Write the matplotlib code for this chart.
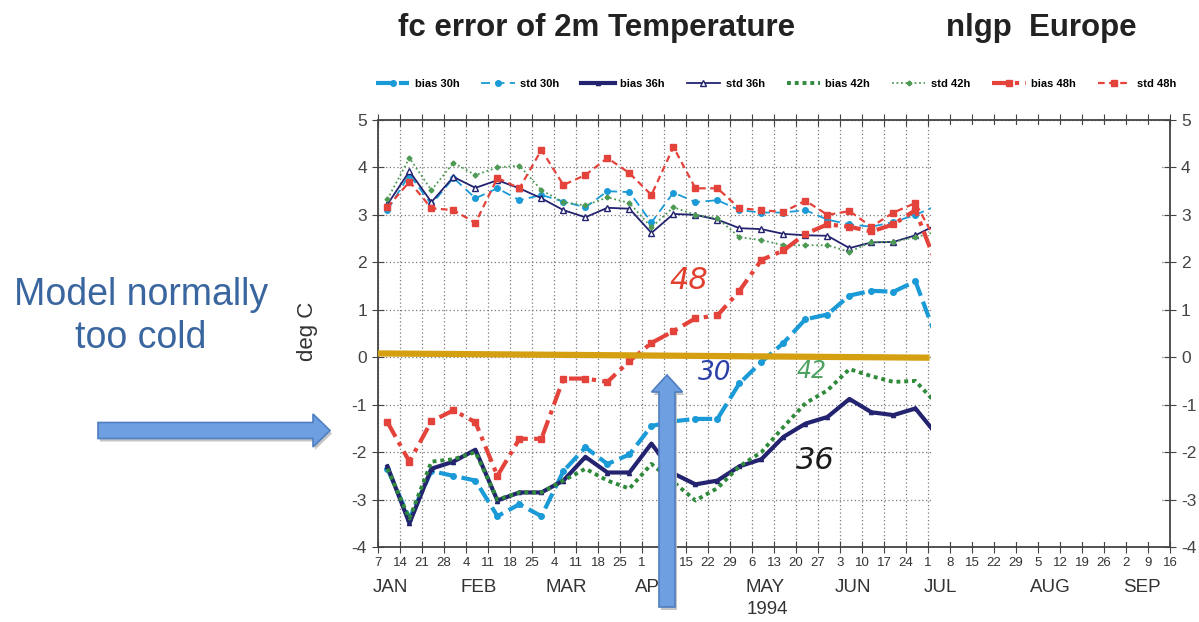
import numpy as np
import pandas as pd
import matplotlib
matplotlib.use("Agg")
import matplotlib.pyplot as plt
import matplotlib.dates as mdates
from matplotlib.patches import Rectangle, FancyArrow

plt.rcParams['font.family'] = ['Liberation Sans', 'DejaVu Sans']
plt.rcParams['axes.unicode_minus'] = False

# weekly verification dates (points sit ~3 days after the tick dates)
dates = pd.date_range("1994-01-10", periods=26, freq="7D")
tick_dates = pd.date_range("1994-01-07", "1994-09-16", freq="7D")
tick_days = [d.day for d in tick_dates]

months = ["JAN", "FEB", "MAR", "APR", "MAY", "JUN", "JUL", "AUG", "SEP"]
month_pos = ["1994-01-11", "1994-02-08", "1994-03-08", "1994-04-05", "1994-05-10",
             "1994-06-07", "1994-07-05", "1994-08-09", "1994-09-07"]

bias_30 = [-2.35, -3.4, -2.4, -2.5, -2.6, -3.35, -3.1, -3.35, -2.4, -1.9, -2.25, -2.05, -1.45,
           -1.35, -1.3, -1.3, -0.55, -0.1, 0.3, 0.8, 0.9, 1.3, 1.4, 1.38, 1.6, 0.35]
std_30 = [3.1, 3.85, 3.22, 3.78, 3.35, 3.56, 3.31, 3.42, 3.28, 3.16, 3.5, 3.48, 2.84,
          3.47, 3.27, 3.31, 3.1, 3.05, 3.05, 3.1, 2.9, 2.8, 2.75, 2.85, 3.0, 3.2]
bias_36 = [-2.3, -3.5, -2.35, -2.2, -1.95, -3.02, -2.85, -2.85, -2.6, -2.1, -2.43, -2.43, -1.82,
           -2.45, -2.68, -2.6, -2.3, -2.15, -1.68, -1.4, -1.26, -0.88, -1.16, -1.22, -1.08, -1.65]
std_36 = [3.22, 3.92, 3.27, 3.8, 3.57, 3.73, 3.56, 3.35, 3.1, 2.95, 3.15, 3.13, 2.62,
          3.02, 3.0, 2.9, 2.72, 2.7, 2.6, 2.57, 2.56, 2.3, 2.42, 2.43, 2.57, 2.8]
bias_42 = [-2.35, -3.4, -2.2, -2.15, -2.0, -3.0, -2.85, -2.85, -2.6, -2.35, -2.6, -2.77, -2.25,
           -2.63, -3.02, -2.76, -2.3, -2.0, -1.47, -0.97, -0.7, -0.25, -0.4, -0.52, -0.5, -1.0]
std_42 = [3.33, 4.2, 3.52, 4.1, 3.84, 4.0, 4.04, 3.52, 3.27, 3.2, 3.37, 3.25, 2.74,
          3.16, 3.0, 2.93, 2.53, 2.47, 2.36, 2.36, 2.36, 2.22, 2.43, 2.43, 2.53, 2.65]
bias_48 = [-1.37, -2.2, -1.35, -1.12, -1.37, -2.5, -1.72, -1.72, -0.45, -0.45, -0.52, -0.08, 0.3,
           0.55, 0.82, 0.88, 1.4, 2.05, 2.25, 2.6, 2.8, 2.75, 2.65, 2.8, 3.1, 1.9]
std_48 = [3.16, 3.7, 3.14, 3.1, 2.83, 3.78, 3.56, 4.37, 3.63, 3.84, 4.2, 3.88, 3.42,
          4.43, 3.56, 3.56, 3.14, 3.1, 3.06, 3.3, 3.0, 3.08, 2.75, 3.05, 3.25, 2.4]

c30 = '#1A9AD6'
c36 = '#23236F'
c42 = '#2F8A3C'
c48 = '#E4433B'

series = [
    ("bias 30h", bias_30, dict(color=c30, ls=(0, (4, 1.5)), lw=3.0, marker='o', ms=4)),
    ("std 30h", std_30, dict(color=c30, ls=(0, (5, 3)), lw=1.3, marker='o', ms=4)),
    ("bias 36h", bias_36, dict(color=c36, ls='-', lw=3.0, marker='^', ms=3)),
    ("std 36h", std_36, dict(color=c36, ls='-', lw=1.3, marker='^', ms=4.5, mfc='white', mew=1)),
    ("bias 42h", bias_42, dict(color=c42, ls=(0, (1, 1)), lw=2.8)),
    ("std 42h", std_42, dict(color='#4E9A55', ls=(0, (1, 1.5)), lw=1.3, marker='D', ms=2.5)),
    ("bias 48h", bias_48, dict(color=c48, ls=(0, (4, 1.5, 1, 1.5)), lw=3.0, marker='s', ms=4)),
    ("std 48h", std_48, dict(color=c48, ls=(0, (3, 2)), lw=1.6, marker='s', ms=5)),
]

fig = plt.figure(figsize=(11.99, 6.22), dpi=100)
ax = fig.add_axes([378 / 1199, 1 - 547 / 622, 792 / 1199, 427 / 622])

handles = []
for name, vals, st in series:
    ln, = ax.plot(dates, vals, label=name, zorder=2, **st)
    handles.append(ln)

# zero line drawn by hand on the original
ax.plot([pd.Timestamp("1994-01-07"), pd.Timestamp("1994-07-01 12:00")], [0.08, -0.01],
        color='#D4A012', lw=4.5, solid_capstyle='butt', zorder=4)

ax.set_xlim(tick_dates[0], tick_dates[-1])
ax.set_ylim(-4, 5)
ax.set_xticks(tick_dates)
ax.set_xticklabels(tick_days)
ax.set_yticks(range(-4, 6))
ax.grid(True, ls=(0, (1, 2)), color='#7a7a7a', lw=0.9)

ax.tick_params(axis='x', direction='inout', length=8, top=True, labelsize=9.5,
               labelcolor='#333333', pad=3, color='#444444')
ax.tick_params(axis='y', direction='inout', length=8, right=True, labelright=True,
               labelsize=12.5, labelcolor='#444444', pad=4, color='#444444')
for sp in ax.spines.values():
    sp.set_color('#444444')
    sp.set_linewidth(1.3)

ax.set_ylabel("deg C", fontsize=16, color='#333333')
ax.yaxis.set_label_coords(-0.076, 0.506)

# blank area on the right part of the scanned plot
x0 = mdates.date2num(pd.Timestamp("1994-07-01 22:00"))
x1 = mdates.date2num(pd.Timestamp("1994-09-13 10:00"))
ax.add_patch(Rectangle((x0, -3.9), x1 - x0, 8.8, facecolor='white', edgecolor='none', zorder=2.2))

xt = ax.get_xaxis_transform()
for m, p in zip(months, month_pos):
    ax.text(pd.Timestamp(p), -0.096, m, transform=xt, ha='center', va='center',
            fontsize=13.5, color='#333333')
ax.text(pd.Timestamp("1994-05-11"), -0.147, "1994", transform=xt, ha='center', va='center',
        fontsize=13.5, color='#333333')

# hand-written lead-time labels
hand = dict(style='italic', family='DejaVu Sans', weight='light', ha='center', va='center')
ax.text(pd.Timestamp("1994-04-16"), 1.62, "48", fontsize=22, color='#E2402F', zorder=5, **hand)
ax.text(pd.Timestamp("1994-04-24"), -0.34, "30", fontsize=19, color='#2B3FA8', zorder=5, **hand)
ax.text(pd.Timestamp("1994-05-25"), -0.3, "42", fontsize=17, color='#4CA060', zorder=3, **hand)
ax.text(pd.Timestamp("1994-05-26"), -2.17, "36", fontsize=22, color='#1A1A1A', zorder=5, **hand)

fig.legend(handles=handles, loc='lower left', ncol=8, mode='expand', frameon=False,
           bbox_to_anchor=(376 / 1199, 1 - 89 / 622, 800 / 1199, 0.03),
           prop=dict(size=8, weight='bold'), handlelength=3.0, handletextpad=0.5,
           borderaxespad=0, borderpad=0)

fig.text(398 / 1199, 1 - 36 / 622, "fc error of 2m Temperature", fontsize=22.5,
         weight='bold', color='#222222', va='baseline')
fig.text(946 / 1199, 1 - 36 / 622, "nlgp  Europe", fontsize=22.5,
         weight='bold', color='#222222', va='baseline')

# slide annotations in pixel coordinates
ov = fig.add_axes([0, 0, 1, 1], zorder=10)
ov.set_xlim(0, 1199)
ov.set_ylim(622, 0)
ov.axis('off')

ov.text(141, 305, "Model normally", fontsize=27, color='#3A66A0', ha='center', va='baseline')
ov.text(141, 348, "too cold", fontsize=27, color='#3A66A0', ha='center', va='baseline')

for dx, dy, fc, ec in [(2, 3, '#bfbfbf', 'none'), (0, 0, '#6E9FE0', '#4F7FC0')]:
    ov.add_patch(FancyArrow(98 + dx, 430.5 + dy, 232, 0, width=16, head_width=33,
                            head_length=17, length_includes_head=True,
                            facecolor=fc, edgecolor=ec, lw=1.2, alpha=0.9 if dx else 1))
    ov.add_patch(FancyArrow(667 + dx, 607 + dy, 0, -232, width=16, head_width=31,
                            head_length=17, length_includes_head=True,
                            facecolor=fc, edgecolor=ec, lw=1.2, alpha=0.9 if dx else 1))

fig.savefig("out.png", dpi=100)
